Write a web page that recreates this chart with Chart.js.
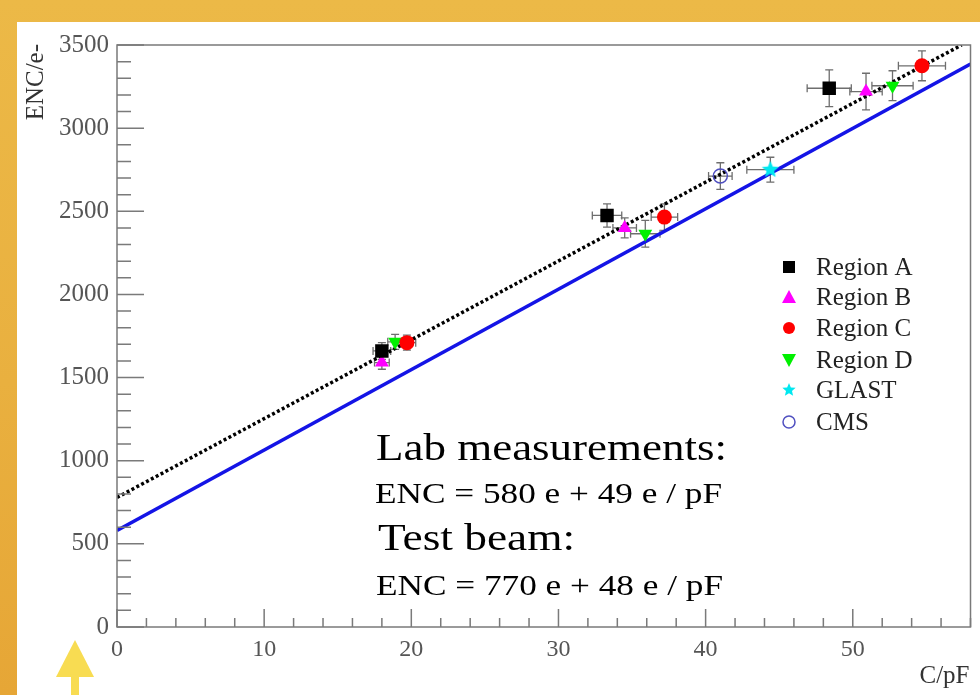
<!DOCTYPE html>
<html>
<head>
<meta charset="utf-8">
<title>ENC vs C</title>
<script src="https://cdn.jsdelivr.net/npm/chart.js@4.4.0/dist/chart.umd.min.js"></script>
<style>
    html, body { margin: 0; padding: 0; }
    body {
        width: 980px;
        height: 695px;
        overflow: hidden;
        position: relative;
        background: linear-gradient(to bottom, #ecb947 0%, #e9b03f 55%, #e6a636 100%);
    }
    #panel {
        position: absolute;
        left: 17px;
        top: 22px;
        width: 963px;
        height: 673px;
        background: #ffffff;
    }
    #enc-chart { display: block; }
</style>
</head>
<body>
<div id="panel"><canvas id="enc-chart" width="963" height="673"></canvas></div>
<script>
// C (pF), ENC (e-) and error half-widths
const regionAX = [18.0, 33.3, 48.4];
const regionAY = [1660, 2475, 3240];
const regionAXErr = [0.6, 1.0, 1.5];
const regionAYErr = [50, 70, 110];

const regionBX = [18.0, 34.5, 50.9];
const regionBY = [1590, 2400, 3220];
const regionBXErr = [0.5, 0.8, 1.1];
const regionBYErr = [40, 60, 110];

const regionCX = [19.7, 37.2, 54.7];
const regionCY = [1710, 2465, 3375];
const regionCXErr = [0.6, 0.9, 1.6];
const regionCYErr = [45, 80, 90];

const regionDX = [18.9, 35.9, 52.7];
const regionDY = [1715, 2365, 3255];
const regionDXErr = [0.5, 1.0, 1.4];
const regionDYErr = [45, 80, 90];

const glastX = [44.4];
const glastY = [2750];
const glastXErr = [1.6];
const glastYErr = [75];

const cmsX = [41.0];
const cmsY = [2712];
const cmsXErr = [0.8];
const cmsYErr = [80];

// fit lines (end points)
const labFitX = [0, 58];
const labFitY = [581, 3386];
const beamFitX = [0, 57.4];
const beamFitY = [779, 3500];

const seriesLabels = ['Region A', 'Region B', 'Region C', 'Region D', 'GLAST', 'CMS'];
const xTickLabels = [0, 10, 20, 30, 40, 50];
const yTickLabels = [0, 500, 1000, 1500, 2000, 2500, 3000, 3500];

const SERIF = '"Liberation Serif", "DejaVu Serif", serif';

function toPoints(xs, ys) {
    return xs.map((v, i) => ({ x: v, y: ys[i] }));
}

function makeStar(r, fill) {
    const c = document.createElement('canvas');
    c.width = c.height = 2 * r + 2;
    const g = c.getContext('2d');
    g.beginPath();
    for (let i = 0; i < 10; i++) {
        const rr = i % 2 ? r * 0.45 : r;
        const ang = -Math.PI / 2 + i * Math.PI / 5;
        g.lineTo(r + 1 + rr * Math.cos(ang), r + 1 + rr * Math.sin(ang));
    }
    g.closePath();
    g.fillStyle = fill;
    g.fill();
    return c;
}

const starBig = makeStar(9, '#00e8f0');
const starSmall = makeStar(7, '#00e8f0');

function markerSet(label, xs, ys, xErr, yErr, style) {
    return Object.assign({
        label: label,
        data: toPoints(xs, ys),
        xErr: xErr,
        yErr: yErr,
        showLine: false,
        borderWidth: 0
    }, style);
}

// legend marker, small version of the plot markers
function drawLegendMarker(ctx, ds, x, y) {
    ctx.save();
    ctx.fillStyle = ds.backgroundColor;
    ctx.strokeStyle = ds.borderColor;
    ctx.lineWidth = 1.5;
    const s = ds.pointStyle;
    if (s === 'rect') {
        ctx.fillRect(x - 6, y - 6, 12, 12);
    } else if (s === 'triangle') {
        const flip = ds.pointRotation === 180 ? -1 : 1;
        ctx.beginPath();
        ctx.moveTo(x, y - 7 * flip);
        ctx.lineTo(x + 7, y + 6 * flip);
        ctx.lineTo(x - 7, y + 6 * flip);
        ctx.closePath();
        ctx.fill();
    } else if (s === 'circle') {
        ctx.beginPath();
        ctx.arc(x, y, 6, 0, Math.PI * 2);
        if (ds.backgroundColor === 'rgba(0,0,0,0)') ctx.stroke(); else ctx.fill();
    } else {
        ctx.drawImage(starSmall, x - 8, y - 8);
    }
    ctx.restore();
}

function drawStretched(ctx, text, x, y, size, width, color) {
    ctx.save();
    ctx.font = size + 'px ' + SERIF;
    ctx.fillStyle = color;
    ctx.textBaseline = 'alphabetic';
    ctx.textAlign = 'left';
    const w = ctx.measureText(text).width;
    ctx.translate(x, y);
    ctx.scale(width / w, 1);
    ctx.fillText(text, 0, 0);
    ctx.restore();
}

const errorBarPlugin = {
    id: 'errorBars',
    beforeDatasetsDraw(chart) {
        const { ctx, scales: { x, y } } = chart;
        ctx.save();
        ctx.strokeStyle = '#6e6e6e';
        ctx.lineWidth = 1.3;
        chart.data.datasets.forEach(ds => {
            if (!ds.xErr) return;
            ds.data.forEach((p, i) => {
                const px = x.getPixelForValue(p.x);
                const py = y.getPixelForValue(p.y);
                const x0 = x.getPixelForValue(p.x - ds.xErr[i]);
                const x1 = x.getPixelForValue(p.x + ds.xErr[i]);
                const y0 = y.getPixelForValue(p.y - ds.yErr[i]);
                const y1 = y.getPixelForValue(p.y + ds.yErr[i]);
                ctx.beginPath();
                ctx.moveTo(x0, py); ctx.lineTo(x1, py);
                ctx.moveTo(x0, py - 4); ctx.lineTo(x0, py + 4);
                ctx.moveTo(x1, py - 4); ctx.lineTo(x1, py + 4);
                ctx.moveTo(px, y0); ctx.lineTo(px, y1);
                ctx.moveTo(px - 4, y0); ctx.lineTo(px + 4, y0);
                ctx.moveTo(px - 4, y1); ctx.lineTo(px + 4, y1);
                ctx.stroke();
            });
        });
        ctx.restore();
    }
};

const frameTicksPlugin = {
    id: 'frameTicks',
    afterDraw(chart) {
        const { ctx, chartArea: a, scales: { x, y } } = chart;
        ctx.save();
        ctx.strokeStyle = '#7a7a7a';
        ctx.lineWidth = 1.5;
        ctx.strokeRect(a.left, a.top, a.right - a.left, a.bottom - a.top);

        ctx.beginPath();
        x.ticks.forEach(t => {
            const px = x.getPixelForValue(t.value);
            const len = t.value % 10 === 0 ? 18 : 9;
            ctx.moveTo(px, a.bottom);
            ctx.lineTo(px, a.bottom - len);
        });
        y.ticks.forEach(t => {
            const py = y.getPixelForValue(t.value);
            const len = t.value % 500 === 0 ? 27 : 14;
            ctx.moveTo(a.left, py);
            ctx.lineTo(a.left + len, py);
        });
        ctx.stroke();

        // axis titles
        ctx.fillStyle = '#333';
        ctx.font = '25px ' + SERIF;
        ctx.textAlign = 'right';
        ctx.textBaseline = 'alphabetic';
        ctx.fillText('C/pF', a.right - 1, a.bottom + 56);
        ctx.save();
        ctx.translate(a.left - 74, a.top - 1);
        ctx.rotate(-Math.PI / 2);
        ctx.textAlign = 'right';
        ctx.fillText('ENC/e-', 0, 0);
        ctx.restore();

        // legend
        const lx = a.left + 672;
        const lrows = [252, 282, 313, 345, 375, 407];
        chart.data.datasets.slice(0, seriesLabels.length).forEach((ds, i) => {
            drawLegendMarker(ctx, ds, lx, lrows[i] - 7);
            ctx.fillStyle = '#222';
            ctx.font = '25px ' + SERIF;
            ctx.textAlign = 'left';
            ctx.fillText(ds.label, lx + 27, lrows[i] + 1);
        });

        // fit annotations
        drawStretched(ctx, 'Lab measurements:', a.left + 259, a.top + 415, 38, 351, '#000');
        drawStretched(ctx, 'ENC = 580 e + 49 e / pF', a.left + 258, a.top + 458, 29, 347, '#000');
        drawStretched(ctx, 'Test beam:', a.left + 261, a.top + 505, 38, 197, '#000');
        drawStretched(ctx, 'ENC = 770 e + 48 e / pF', a.left + 259, a.top + 550, 29, 347, '#000');

        // yellow arrow, bottom left
        ctx.fillStyle = '#f8dc52';
        ctx.beginPath();
        ctx.moveTo(a.left - 42, a.bottom + 13);
        ctx.lineTo(a.left - 23, a.bottom + 50);
        ctx.lineTo(a.left - 61, a.bottom + 50);
        ctx.closePath();
        ctx.fill();
        ctx.fillRect(a.left - 46, a.bottom + 49, 8, 30);
        ctx.restore();
    }
};

const ctx = document.getElementById('enc-chart').getContext('2d');

const encChart = new Chart(ctx, {
    type: 'scatter',
    data: {
        datasets: [
            markerSet(seriesLabels[0], regionAX, regionAY, regionAXErr, regionAYErr, {
                pointStyle: 'rect', pointRadius: 9.5, backgroundColor: '#000000', borderColor: '#000000'
            }),
            markerSet(seriesLabels[1], regionBX, regionBY, regionBXErr, regionBYErr, {
                pointStyle: 'triangle', pointRadius: 8, backgroundColor: '#ff00ff', borderColor: '#ff00ff'
            }),
            markerSet(seriesLabels[2], regionCX, regionCY, regionCXErr, regionCYErr, {
                pointStyle: 'circle', pointRadius: 7.5, backgroundColor: '#ff0000', borderColor: '#ff0000'
            }),
            markerSet(seriesLabels[3], regionDX, regionDY, regionDXErr, regionDYErr, {
                pointStyle: 'triangle', pointRotation: 180, pointRadius: 8,
                backgroundColor: '#00f000', borderColor: '#00f000'
            }),
            markerSet(seriesLabels[4], glastX, glastY, glastXErr, glastYErr, {
                pointStyle: starBig, pointRadius: 9, backgroundColor: '#00e8f0', borderColor: '#00e8f0'
            }),
            markerSet(seriesLabels[5], cmsX, cmsY, cmsXErr, cmsYErr, {
                pointStyle: 'circle', pointRadius: 7, backgroundColor: 'rgba(0,0,0,0)',
                borderColor: '#5050c0', borderWidth: 1.5
            }),
            {
                label: 'Test beam fit',
                data: toPoints(beamFitX, beamFitY),
                showLine: true,
                pointRadius: 0,
                borderColor: '#000000',
                borderWidth: 3.5,
                borderDash: [3, 2.5]
            },
            {
                label: 'Lab fit',
                data: toPoints(labFitX, labFitY),
                showLine: true,
                pointRadius: 0,
                borderColor: '#1414e6',
                borderWidth: 3.5
            }
        ]
    },
    options: {
        responsive: false,
        animation: false,
        devicePixelRatio: 1,
        layout: {
            padding: { left: 0, right: 4, top: 21, bottom: 20 }
        },
        plugins: {
            legend: { display: false },
            tooltip: { enabled: false }
        },
        scales: {
            x: {
                type: 'linear',
                min: 0,
                max: 58,
                afterFit: scale => { scale.height = 48; },
                grid: { display: false, drawTicks: false },
                border: { display: false },
                ticks: {
                    stepSize: 2,
                    autoSkip: false,
                    maxRotation: 0,
                    padding: 8,
                    color: '#555',
                    font: { family: SERIF, size: 24 },
                    callback: v => xTickLabels.includes(v) ? String(v) : ''
                }
            },
            y: {
                type: 'linear',
                min: 0,
                max: 3500,
                afterFit: scale => { scale.width = 100; },
                grid: { display: false, drawTicks: false },
                border: { display: false },
                ticks: {
                    stepSize: 100,
                    autoSkip: false,
                    padding: 8,
                    color: '#555',
                    font: { family: SERIF, size: 25 },
                    callback: v => yTickLabels.includes(v) ? String(v) : ''
                }
            }
        }
    },
    plugins: [errorBarPlugin, frameTicksPlugin]
});
</script>
</body>
</html>
